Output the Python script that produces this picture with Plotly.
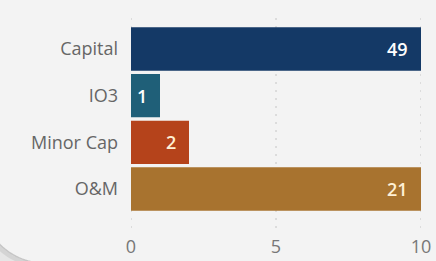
import math
import plotly.graph_objects as go

categories = ["Capital", "IO3", "Minor Cap", "O&M"]
values = [49, 1, 2, 21]
bar_colors = ["#143966", "#1f5f78", "#b5431b", "#a8732f"]
label_colors = ["#ffffff", "#ffffff", "#fff0d6", "#fff0d6"]
x_ticks = [0, 5, 10]
x_max = 10

W, H = 436, 261
L, R, T, B = 131, 15, 15, 33
PW, PH = W - L - R, H - T - B


def px2paper(px, py):
    return (px - L) / PW, (H - B - py) / PH


fig = go.Figure()
fig.add_trace(go.Bar(
    y=categories,
    x=values,
    orientation="h",
    marker=dict(color=bar_colors, line=dict(width=0)),
    textposition="none",
    cliponaxis=True,
    hoverinfo="skip",
))

# value labels, inside the visible end of each bar
for cat, v, col in zip(categories, values, label_colors):
    fig.add_annotation(
        x=min(v, x_max), y=cat, xref="x", yref="y",
        text=str(v), showarrow=False, xanchor="right", xshift=-11,
        font=dict(family="Open Sans", size=18, color=col, weight=600),
    )

# dotted vertical gridlines at every tick (incl. the plot edges)
for t in x_ticks:
    fig.add_shape(type="line", xref="x", yref="paper", x0=t, x1=t, y0=0, y1=1,
                  line=dict(color="#c4c4c4", width=1, dash="2px,6px"), layer="below")

# decorative card corner (bottom-left) with shadow
cx, cy, rad = 44, 201, 62
pts = []
for i in range(0, 31):
    a = math.pi / 2 + (math.pi / 2) * i / 30
    pts.append((cx + rad * math.cos(a), cy + rad * math.sin(a)))
pts = pts[::-1]
outer = [px2paper(-10, 150)] + [px2paper(p[0], p[1]) for p in pts] + [px2paper(cx, 270), px2paper(-10, 270)]
path = "M " + " L ".join(f"{x:.5f},{y:.5f}" for x, y in outer) + " Z"
arc = "M " + " L ".join(f"{px2paper(p[0], p[1])[0]:.5f},{px2paper(p[0], p[1])[1]:.5f}" for p in pts)
arc2 = "M " + " L ".join(f"{px2paper(p[0]-2, p[1]+2)[0]:.5f},{px2paper(p[0]-2, p[1]+2)[1]:.5f}" for p in pts)

fig.add_shape(type="path", path=path, xref="paper", yref="paper",
              fillcolor="#e6e6e6", line=dict(width=0), layer="above")
fig.add_shape(type="path", path=arc2, xref="paper", yref="paper",
              line=dict(color="#d4d4d4", width=4), layer="above")
fig.add_shape(type="path", path=arc, xref="paper", yref="paper",
              line=dict(color="#c6c6c6", width=1.5), layer="above")

fig.update_layout(
    width=W, height=H,
    margin=dict(l=L, r=R, t=T, b=B, pad=0, autoexpand=False),
    paper_bgcolor="#f3f3f3",
    plot_bgcolor="#f3f3f3",
    showlegend=False,
    bargap=0.07,
    font=dict(family="Open Sans", size=18, color="#666666"),
    xaxis=dict(
        range=[0, 10],
        tickvals=x_ticks,
        ticktext=[str(v) for v in x_ticks],
        showgrid=False,
        zeroline=False,
        showline=False,
        ticks="",
        automargin=False,
        tickfont=dict(family="Open Sans", size=18, color="#777777"),
        ticklabelstandoff=6,
        fixedrange=True,
    ),
    yaxis=dict(
        type="category",
        categoryorder="array",
        categoryarray=categories,
        range=[3.836, -0.729],
        showgrid=False,
        zeroline=False,
        showline=False,
        ticks="",
        automargin=False,
        tickfont=dict(family="Open Sans", size=18, color="#666666"),
        ticklabelstandoff=12,
        fixedrange=True,
    ),
)

fig.write_html(
    "out.html",
    config={"displayModeBar": False},
    post_script="document.body.style.margin='0';document.body.style.background='#f3f3f3';",
)
